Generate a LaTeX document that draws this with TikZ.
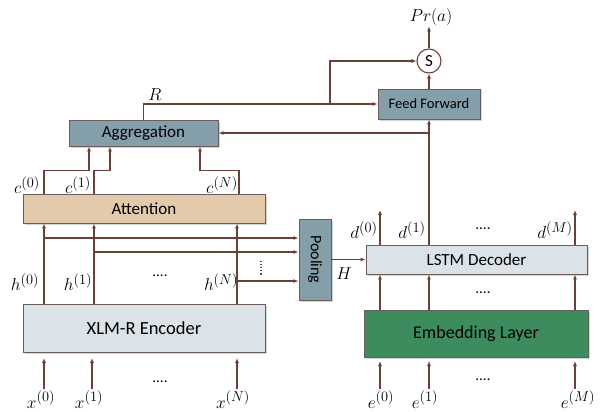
\documentclass[tikz,border=0pt]{standalone}
\usepackage{fontspec}
\setmainfont{Carlito}
\usetikzlibrary{arrows.meta,shadows,calc}
\definecolor{arrowc}{HTML}{6A4038}
\definecolor{bordc}{HTML}{6B5E5A}
\definecolor{bluegray}{HTML}{849FAA}
\definecolor{tan}{HTML}{E3CAAA}
\definecolor{lightgray}{HTML}{DCE3E8}
\definecolor{embgreen}{HTML}{3C8C5E}
\tikzset{
  box/.style={draw=bordc, line width=0.9pt, inner sep=0pt, drop shadow={shadow xshift=1.5pt, shadow yshift=-1.5pt, opacity=0.35}},
  arr/.style={draw=arrowc, line width=1.1pt, -{Latex[length=5pt,width=4pt]}},
  ln/.style={draw=arrowc, line width=1.1pt},
  lab/.style={font=\fontsize{19}{21}\selectfont, inner sep=0.5pt},
  dots/.style={font=\fontsize{15}{17}\selectfont, inner sep=0pt},
}
\begin{document}
\begin{tikzpicture}[x=1pt,y=-1pt]
\useasboundingbox (0,0) rectangle (600,412);
% boxes
\node[box, fill=bluegray, minimum width=149pt, minimum height=26pt, font=\fontsize{17}{19}\selectfont] (agg) at (143.5,133) {Aggregation};
\node[box, fill=bluegray, minimum width=102pt, minimum height=30pt, font=\fontsize{14.5}{16}\selectfont] (ff) at (429,104) {Feed Forward};
\node[draw=arrowc, line width=1.1pt, fill=white, circle, minimum size=24pt, inner sep=0pt, font=\fontsize{17}{19}\selectfont] (S) at (429,61) {S};
\node[lab] (pr) at (431,17) {$Pr(a)$};
\node[box, fill=tan, minimum width=242pt, minimum height=29pt, font=\fontsize{17}{19}\selectfont] (att) at (144,208.5) {Attention};
\node[box, fill=lightgray, minimum width=242pt, minimum height=48pt, font=\fontsize{18.5}{20}\selectfont] (enc) at (144,328) {XLM-R Encoder};
\node[box, fill=bluegray, minimum width=32pt, minimum height=81pt] (pool) at (315,259.5) {};
\node[rotate=-90, font=\fontsize{16}{18}\selectfont] (pooltxt) at (pool.center) {Pooling};
\node[box, fill=lightgray, minimum width=221pt, minimum height=29pt, font=\fontsize{17}{19}\selectfont] (lstm) at (476.5,259.5) {LSTM Decoder};
\node[box, fill=embgreen, minimum width=224pt, minimum height=47pt, font=\fontsize{18}{20}\selectfont] (emb) at (476,333.5) {Embedding Layer};
% columns
\coordinate (X0) at (44,0);
\coordinate (X1) at (94,0);
\coordinate (XN) at (237,0);
\coordinate (CN) at (239,0);
\coordinate (I0) at (44,0);
\coordinate (I1) at (92,0);
\coordinate (IN) at (237,0);
\coordinate (A0) at (89,0);
\coordinate (A1) at (110,0);
\coordinate (AN) at (200,0);
\coordinate (E0) at (380,0);
\coordinate (E1) at (429,0);
\coordinate (EM) at (575,0);
% top part
\draw[arr] (agg.north) |- (ff.west);
\draw[arr] (330,104) |- (S.west);
\node[lab] (R) at (155,95) {$R$};
\draw[arr] (ff.north) -- (S.south);
\draw[arr] (S.north) -- (pr.south -| S.north);
\draw[arr] (E1 |- lstm.north) -- (ff.south);
\draw[arr] (E1 |- agg.east) -- (agg.east);
% c connectors
\draw[arr] (X0 |- att.north) -- ++(0,-23) -| (A0 |- agg.south);
\draw[arr] (X1 |- att.north) -- ++(0,-23) -| (A1 |- agg.south);
\draw[arr] (CN |- att.north) -- ++(0,-23) -| (AN |- agg.south);
\node[lab] (c0) at (27,185) {$c^{(0)}$};
\node[lab] (c1) at (78,185) {$c^{(1)}$};
\node[lab] (cN) at (222,185) {$c^{(N)}$};
% h connectors
\draw[arr] (X0 |- enc.north) -- (X0 |- att.south);
\draw[arr] (X1 |- enc.north) -- (X1 |- att.south);
\draw[arr] (XN |- enc.north) -- (XN |- att.south);
\draw[arr] ($(X0)+(0,238)$) -- ($(pool.west |- X0)+(0,238)$);
\draw[arr] ($(X1)+(0,252)$) -- ($(pool.west |- X1)+(0,252)$);
\draw[arr] ($(XN)+(0,281)$) -- ($(pool.west |- XN)+(0,281)$);
\draw[arrowc, line width=1.1pt, dotted] (261,261) -- (261,276);
\node[lab] (h0) at (25,282) {$h^{(0)}$};
\node[lab] (h1) at (78,282) {$h^{(1)}$};
\node[dots] (hd) at (160,276) {....};
\node[lab] (hN) at (221,282) {$h^{(N)}$};
% x inputs
\node[lab] (x0) at (41,399.5) {$x^{(0)}$};
\node[lab] (x1) at (89,399.5) {$x^{(1)}$};
\node[lab] (xN) at (233,399.5) {$x^{(N)}$};
\node[dots] (xd) at (160,382) {....};
\draw[arr] (I0 |- 0,389) -- (I0 |- 0,358);
\draw[arr] (I1 |- 0,389) -- (I1 |- 0,358);
\draw[arr] (IN |- 0,389) -- (IN |- 0,358);
% pooling to lstm
\draw[arr] (pool.east) -- (lstm.west |- pool.east);
\node[lab] (H) at (344,274) {$H$};
% decoder outputs
\draw[arr] (E0 |- lstm.north) -- (E0 |- 0,210);
\draw[arr] (EM |- lstm.north) -- (EM |- 0,210);
\node[lab] (d0) at (364,230) {$d^{(0)}$};
\node[lab] (d1) at (412,230) {$d^{(1)}$};
\node[dots] (dd) at (483,229) {....};
\node[lab] (dM) at (555,230) {$d^{(M)}$};
% emb to lstm
\draw[arr] (E0 |- emb.north) -- (E0 |- lstm.south);
\draw[arr] (E1 |- emb.north) -- (E1 |- lstm.south);
\draw[arr] (EM |- emb.north) -- (EM |- lstm.south);
\node[dots] (md) at (483,293) {....};
% e inputs
\draw[arr] (E0 |- 0,389) -- (E0 |- 0,361);
\draw[arr] (E1 |- 0,389) -- (E1 |- 0,361);
\draw[arr] (EM |- 0,389) -- (EM |- 0,361);
\node[lab] (e0) at (381,399.5) {$e^{(0)}$};
\node[lab] (e1) at (425,399.5) {$e^{(1)}$};
\node[dots] (ed) at (483,380) {....};
\node[lab] (eM) at (578,399.5) {$e^{(M)}$};
\end{tikzpicture}
\end{document}
